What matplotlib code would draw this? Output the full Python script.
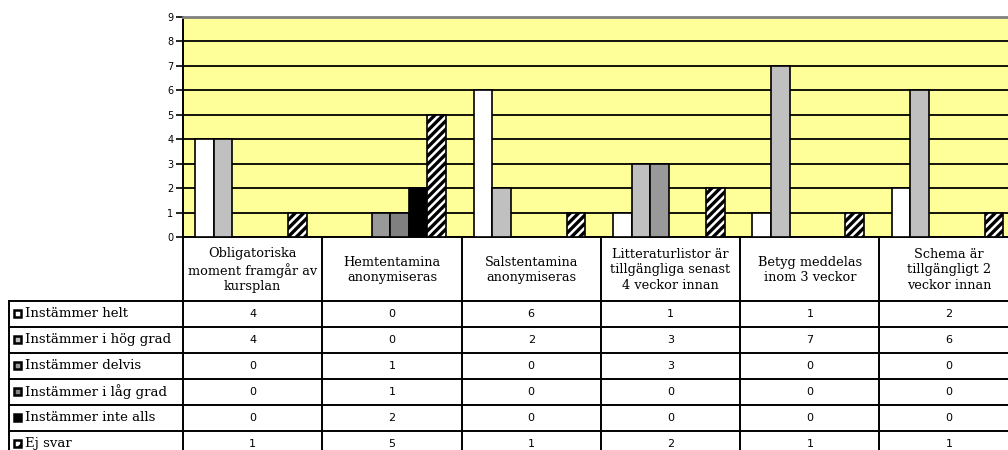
import matplotlib
matplotlib.use('Agg')
import matplotlib.pyplot as plt
from matplotlib.patches import Rectangle

categories = [
    "Obligatoriska\nmoment framgår av\nkursplan",
    "Hemtentamina\nanonymiseras",
    "Salstentamina\nanonymiseras",
    "Litteraturlistor är\ntillgängliga senast\n4 veckor innan",
    "Betyg meddelas\ninom 3 veckor",
    "Schema är\ntillgängligt 2\nveckor innan",
]
series_names = [
    "Instämmer helt",
    "Instämmer i hög grad",
    "Instämmer delvis",
    "Instämmer i låg grad",
    "Instämmer inte alls",
    "Ej svar",
]
helt = [4, 0, 6, 1, 1, 2]
hog_grad = [4, 0, 2, 3, 7, 6]
delvis = [0, 1, 0, 3, 0, 0]
lag_grad = [0, 1, 0, 0, 0, 0]
inte_alls = [0, 2, 0, 0, 0, 0]
ej_svar = [1, 5, 1, 2, 1, 1]
series = [helt, hog_grad, delvis, lag_grad, inte_alls, ej_svar]

colors = ["#FFFFFF", "#C0C0C0", "#999999", "#808080", "#000000", "#FFFFFF"]
hatches = [None, None, None, None, None, "////"]

plt.rcParams['hatch.linewidth'] = 2.4

W, H = 1008, 450
fig = plt.figure(figsize=(W / 100, H / 100), dpi=100)

# layout in pixels
x0 = 183.0
cw = 139.3
ncat = len(categories)
x1 = x0 + cw * ncat
y_top, y_bot = 17.0, 237.0
head_bot = 300.7
row_h = 26.0
lab_left = 9.0
tab_bottom = head_bot + row_h * len(series_names)

# table axes (pixel coordinates)
tax = fig.add_axes([lab_left / W, 1 - tab_bottom / H, (x1 - lab_left) / W, (tab_bottom - y_bot) / H])
tax.set_xlim(lab_left, x1)
tax.set_ylim(tab_bottom, y_bot)
tax.axis('off')

lw = 1.4
for i in range(ncat + 1):
    tax.plot([x0 + i * cw] * 2, [y_bot, tab_bottom], color='black', lw=lw, clip_on=False)
tax.plot([lab_left] * 2, [head_bot, tab_bottom], color='black', lw=lw, clip_on=False)
for k in range(len(series_names) + 1):
    yy = head_bot + k * row_h
    tax.plot([lab_left, x1], [yy, yy], color='black', lw=lw, clip_on=False)

for i, c in enumerate(categories):
    tax.text(x0 + (i + 0.5) * cw, (y_bot + head_bot) / 2 + 1, c, ha='center', va='center',
             fontsize=9.3, family='DejaVu Serif', linespacing=1.25)

for r, (name, vals) in enumerate(zip(series_names, series)):
    yc = head_bot + (r + 0.5) * row_h
    tax.add_patch(Rectangle((13.5, yc - 4), 7, 7, facecolor=colors[r], edgecolor='black',
                            lw=1.8, hatch=('//' if hatches[r] else None), clip_on=False))
    tax.text(25, yc, name, ha='left', va='center', fontsize=9.5, family='DejaVu Serif')
    for i, v in enumerate(vals):
        tax.text(x0 + (i + 0.5) * cw, yc, str(v), ha='center', va='center',
                 fontsize=8, family='DejaVu Sans')

# chart axes
ax = fig.add_axes([x0 / W, 1 - y_bot / H, (x1 - x0) / W, (y_bot - y_top) / H])
ax.set_facecolor('#FFFF99')
n = len(series)
bw = 0.8 / n
for j, (vals, col, hat) in enumerate(zip(series, colors, hatches)):
    xs = [i + (j - (n - 1) / 2) * bw - 0.012 for i in range(ncat)]
    ax.bar(xs, vals, width=bw, color=col, edgecolor='black', lw=1.2, hatch=hat, zorder=3)

ax.set_xlim(-0.5, ncat - 0.5)
ax.set_ylim(0, 9)
ax.set_yticks(range(0, 10))
ax.set_xticks([])
ax.yaxis.grid(True, color='black', lw=1.3)
ax.set_axisbelow(True)
ax.tick_params(axis='y', direction='out', length=5, width=1.2, labelsize=7, pad=2)
for s in ['left', 'bottom']:
    ax.spines[s].set_linewidth(1.4)
ax.spines['top'].set_color('#808080')
ax.spines['top'].set_linewidth(2)
ax.spines['right'].set_visible(False)

fig.savefig('out.png', dpi=100)
